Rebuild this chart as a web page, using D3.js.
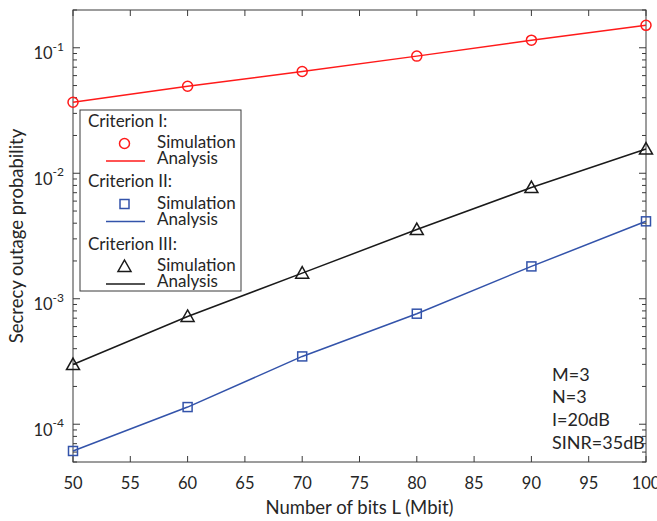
<!DOCTYPE html>
<html lang="en">
<head>
<meta charset="UTF-8">
<title>Secrecy outage probability</title>
<script src="https://d3js.org/d3.v7.min.js"></script>
<style>
  body { margin: 0; background: #fff; }
  svg { display: block; font-family: Lato, 'Noto Sans', sans-serif; }
  text { fill: #262626; }
</style>
</head>
<body>
<svg id="chart" width="657" height="521"></svg>
<script>
  // data
  const bits = [50, 60, 70, 80, 90, 100];
  const crit1 = [0.0368, 0.0494, 0.0647, 0.0858, 0.115, 0.151];
  const crit2 = [6.12e-5, 1.37e-4, 3.47e-4, 7.6e-4, 1.81e-3, 4.14e-3];
  const crit3 = [2.99e-4, 7.22e-4, 1.6e-3, 3.56e-3, 7.69e-3, 0.0156];
  const xTicks = [50, 55, 60, 65, 70, 75, 80, 85, 90, 95, 100];
  const yDecades = [-4, -3, -2, -1];
  const params = ["M=3", "N=3", "I=20dB", "SINR=35dB"];

  const series = [
    { name: "Criterion I:", values: crit1, color: "#ff1a1a", marker: "circle" },
    { name: "Criterion II:", values: crit2, color: "#3353aa", marker: "square" },
    { name: "Criterion III:", values: crit3, color: "#1a1a1a", marker: "triangle" }
  ];

  const svg = d3.select("#chart");
  const pl = 73, pr = 646, pt = 10, pb = 462;
  const axisColor = "#3a3a3a";

  const x = d3.scaleLinear().domain([50, 100]).range([pl, pr]);
  const y = d3.scaleLog().domain([5e-5, 0.2]).range([pb, pt]);

  // axes box
  svg.append("rect")
    .attr("x", pl).attr("y", pt)
    .attr("width", pr - pl).attr("height", pb - pt)
    .attr("fill", "none").attr("stroke", axisColor).attr("stroke-width", 1);

  // x ticks, bottom and top
  const xt = svg.append("g").attr("stroke", axisColor);
  xTicks.forEach(v => {
    xt.append("line").attr("x1", x(v)).attr("x2", x(v)).attr("y1", pb).attr("y2", pb - 6);
    xt.append("line").attr("x1", x(v)).attr("x2", x(v)).attr("y1", pt).attr("y2", pt + 6);
  });
  svg.append("g").selectAll("text").data(xTicks).enter().append("text")
    .attr("x", d => x(d)).attr("y", 488.5)
    .attr("text-anchor", "middle").style("font-size", "16.5px")
    .text(d => d);

  // y ticks, major and minor, left and right
  const yt = svg.append("g").attr("stroke", axisColor);
  const minors = [];
  [-5, -4, -3, -2, -1].forEach(e => {
    for (let k = 2; k <= 9; k++) {
      const v = k * Math.pow(10, e);
      if (v >= 5e-5 && v <= 0.2) minors.push(v);
    }
  });
  minors.forEach(v => {
    yt.append("line").attr("x1", pl).attr("x2", pl + 4).attr("y1", y(v)).attr("y2", y(v));
    yt.append("line").attr("x1", pr).attr("x2", pr - 4).attr("y1", y(v)).attr("y2", y(v));
  });
  yDecades.forEach(e => {
    const v = Math.pow(10, e);
    yt.append("line").attr("x1", pl).attr("x2", pl + 7).attr("y1", y(v)).attr("y2", y(v));
    yt.append("line").attr("x1", pr).attr("x2", pr - 7).attr("y1", y(v)).attr("y2", y(v));
  });
  const ylab = svg.append("g").selectAll("text").data(yDecades).enter().append("text")
    .attr("x", 64).attr("y", d => y(Math.pow(10, d)) + 11.5)
    .attr("text-anchor", "end").style("font-size", "16.5px");
  ylab.append("tspan").text("10");
  ylab.append("tspan").attr("dy", -8.5).style("font-size", "12px").text(d => "-" + Math.abs(d));

  // axis titles
  svg.append("text")
    .attr("x", (pl + pr) / 2).attr("y", 514)
    .attr("text-anchor", "middle").style("font-size", "18.5px")
    .text("Number of bits L (Mbit)");
  svg.append("text")
    .attr("transform", `translate(23,${(pt + pb) / 2}) rotate(-90)`)
    .attr("text-anchor", "middle").style("font-size", "18.5px")
    .text("Secrecy outage probability");

  // markers
  function drawMarker(g, kind, cx, cy, color) {
    if (kind === "circle") {
      g.append("circle").attr("cx", cx).attr("cy", cy).attr("r", 5)
        .attr("fill", "none").attr("stroke", color).attr("stroke-width", 1.5);
    } else if (kind === "square") {
      g.append("rect").attr("x", cx - 4.5).attr("y", cy - 4.5).attr("width", 9).attr("height", 9)
        .attr("fill", "none").attr("stroke", color).attr("stroke-width", 1.5);
    } else {
      g.append("path")
        .attr("d", `M${cx},${cy - 6.5}L${cx + 6.5},${cy + 5}L${cx - 6.5},${cy + 5}Z`)
        .attr("fill", "none").attr("stroke", color).attr("stroke-width", 1.5);
    }
  }

  const line = d3.line().x((d, i) => x(bits[i])).y(d => y(d));
  series.forEach(s => {
    svg.append("path").datum(s.values)
      .attr("d", line)
      .attr("fill", "none").attr("stroke", s.color).attr("stroke-width", 1.5);
    const g = svg.append("g");
    s.values.forEach((v, i) => drawMarker(g, s.marker, x(bits[i]), y(v), s.color));
  });

  // legend
  const lg = svg.append("g");
  lg.append("rect").attr("x", 80).attr("y", 110).attr("width", 161).attr("height", 181)
    .attr("fill", "#fff").attr("stroke", axisColor).attr("stroke-width", 1);
  const groupY = [126.5, 187, 249.5];
  series.forEach((s, i) => {
    const gy = groupY[i];
    lg.append("text").attr("x", 88).attr("y", gy).style("font-size", "17px").text(s.name);
    drawMarker(lg, s.marker, 124.5, gy + 17, s.color);
    lg.append("text").attr("x", 157).attr("y", gy + 21.5).style("font-size", "17px").text("Simulation");
    lg.append("line").attr("x1", 106).attr("x2", 145).attr("y1", gy + 34.5).attr("y2", gy + 34.5)
      .attr("stroke", s.color).attr("stroke-width", 1.5);
    lg.append("text").attr("x", 157).attr("y", gy + 37.5).style("font-size", "17px").text("Analysis");
  });

  // parameter notes
  svg.append("g").selectAll("text").data(params).enter().append("text")
    .attr("x", 552).attr("y", (d, i) => 380.5 + i * 22.9)
    .style("font-size", "18px")
    .text(d => d);
</script>
</body>
</html>
